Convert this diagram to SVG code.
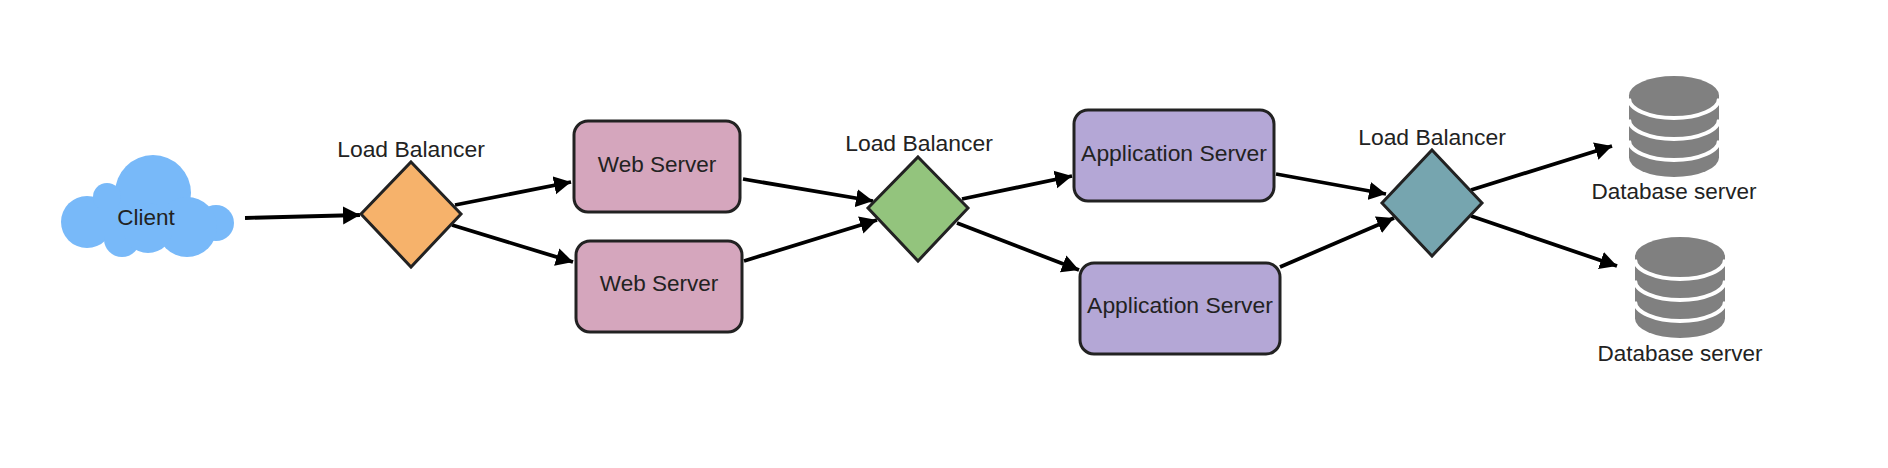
<svg xmlns="http://www.w3.org/2000/svg" xmlns:xlink="http://www.w3.org/1999/xlink" width="1888" height="468" viewBox="0 0 1888 468">
<style>
text{font-family:"Liberation Sans",Arial,sans-serif;font-size:22.5px;fill:#222;text-anchor:middle}
text.wide{font-size:22.9px}
.box{stroke:#222;stroke-width:3}
.dia{stroke:#222;stroke-width:3;stroke-linejoin:miter}
.web{fill:#d5a6bd}
.app{fill:#b4a7d6}
.conn{fill:none;stroke:#000;stroke-width:3.8;marker-end:url(#arrow)}
.band{fill:none;stroke:#fff;stroke-width:4}
</style>
<defs>
<marker id="arrow" markerUnits="userSpaceOnUse" markerWidth="19" markerHeight="19" refX="17" refY="9" orient="auto" viewBox="0 0 19 18">
<path d="M0 0L17 9L0 18z" fill="#000"/>
</marker>
<g id="db">
<path fill="#808080" d="M0 19.500V81.500A45 19.500 0 0 0 90 81.500V19.500z"/>
<ellipse cx="45" cy="19.500" rx="45" ry="19.500" fill="#808080"/>
<path class="band" d="M0 22.500A45 19.500 0 0 0 90 22.500"/>
<path class="band" d="M0 43.500A45 19.500 0 0 0 90 43.500"/>
<path class="band" d="M0 64.500A45 19.500 0 0 0 90 64.500"/>
</g>
</defs>
<rect width="1888" height="468" fill="#fff"/>
<g id="connectors">
<path class="conn" d="M245 218L360 215"/>
<path class="conn" d="M455 205L571 182"/>
<path class="conn" d="M452 225L573 262"/>
<path class="conn" d="M743 179L873 201"/>
<path class="conn" d="M744 261L877 220"/>
<path class="conn" d="M962 199L1072 176"/>
<path class="conn" d="M957 223L1079 270"/>
<path class="conn" d="M1276 174L1386 194"/>
<path class="conn" d="M1280 267L1394 218"/>
<path class="conn" d="M1471 190L1612 146"/>
<path class="conn" d="M1471 216L1617 266"/>
</g>
<g id="client" fill="#78b9f9">
<circle cx="153" cy="193" r="38"/>
<circle cx="87" cy="222" r="26"/>
<circle cx="107" cy="197" r="14"/>
<circle cx="216" cy="223" r="18"/>
<circle cx="187" cy="227" r="30"/>
<circle cx="122" cy="239" r="18"/>
<circle cx="148" cy="228" r="25"/>
<rect x="100" y="205" width="90" height="30"/>
<text x="146" y="225">Client</text>
</g>
<g id="lb1">
<polygon class="dia" fill="#f6b26b" points="411,162 461,214 411,267 361,214"/>
<text class="wide" x="411" y="157">Load Balancer</text>
</g>
<g id="web1">
<rect class="box web" x="574" y="121" width="166" height="91" rx="14"/>
<text x="657" y="172">Web Server</text>
</g>
<g id="web2">
<rect class="box web" x="576" y="241" width="166" height="91" rx="14"/>
<text x="659" y="291">Web Server</text>
</g>
<g id="lb2">
<polygon class="dia" fill="#93c47d" points="918,157 968,208 918,261 868,208"/>
<text class="wide" x="919" y="151">Load Balancer</text>
</g>
<g id="app1">
<rect class="box app" x="1074" y="110" width="200" height="91" rx="14"/>
<text class="wide" x="1174" y="161">Application Server</text>
</g>
<g id="app2">
<rect class="box app" x="1080" y="263" width="200" height="91" rx="14"/>
<text class="wide" x="1180" y="313">Application Server</text>
</g>
<g id="lb3">
<polygon class="dia" fill="#76a5af" points="1432,150 1482,203 1432,256 1382,203"/>
<text class="wide" x="1432" y="145">Load Balancer</text>
</g>
<g id="db1">
<use xlink:href="#db" x="1629" y="76"/>
<text x="1674" y="199">Database server</text>
</g>
<g id="db2">
<use xlink:href="#db" x="1635" y="237"/>
<text x="1680" y="361">Database server</text>
</g>
</svg>
